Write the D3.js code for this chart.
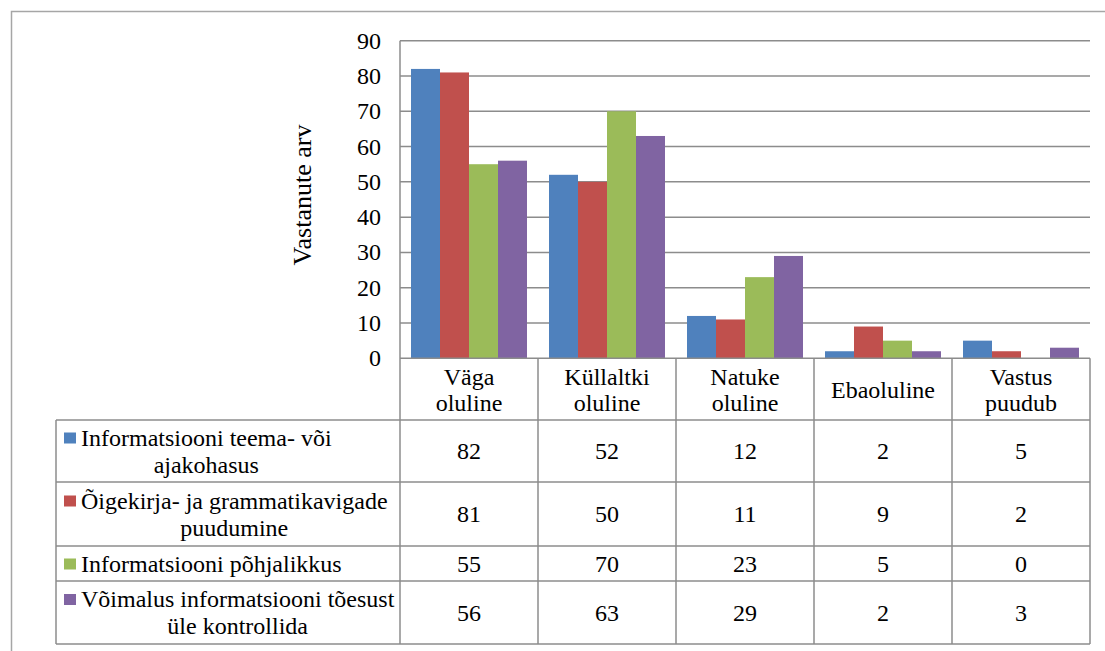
<!DOCTYPE html>
<html><head><meta charset="utf-8"><script src="https://cdn.jsdelivr.net/npm/d3@7"></script></head>
<body style="margin:0">
<svg id="s" width="1105" height="651"></svg>
<script>
// ---- data ----
const categories = ["Väga oluline", "Küllaltki oluline", "Natuke oluline", "Ebaoluline", "Vastus puudub"];
const categoryLines = [["Väga", "oluline"], ["Küllaltki", "oluline"], ["Natuke", "oluline"], ["Ebaoluline"], ["Vastus", "puudub"]];
const seriesNames = [
  "Informatsiooni teema- või ajakohasus",
  "Õigekirja- ja grammatikavigade puudumine",
  "Informatsiooni põhjalikkus",
  "Võimalus informatsiooni tõesust üle kontrollida"
];
const seriesLines = [
  ["Informatsiooni teema- või", "ajakohasus"],
  ["Õigekirja- ja grammatikavigade", "puudumine"],
  ["Informatsiooni põhjalikkus"],
  ["Võimalus informatsiooni tõesust", "üle kontrollida"]
];
const series1 = [82, 52, 12, 2, 5];
const series2 = [81, 50, 11, 9, 2];
const series3 = [55, 70, 23, 5, 0];
const series4 = [56, 63, 29, 2, 3];
const seriesValues = [series1, series2, series3, series4];
const colors = ["#4f81bd", "#c0504d", "#9bbb59", "#8064a2"];
const yTicks = [0, 10, 20, 30, 40, 50, 60, 70, 80, 90];
const yTitle = "Vastanute arv";

// ---- layout ----
const svg = d3.select("#s");
const plotLeft = 400, plotRight = 1090, plotTop = 40.7, plotBottom = 358.3;
const tableLeft = 56;
const headerBottom = 420;
const rowHeights = [62, 64, 35, 63];
const gridColor = "#8c8c8c";
const fontSize = 24;
const lineGap = 26;

function addText(x, yy, s, size, anchor) {
  return svg.append("text").attr("x", x).attr("y", yy)
    .attr("font-family", "'Liberation Serif'").attr("font-size", size || fontSize)
    .attr("text-anchor", anchor || "middle")
    .text(s);
}

const x0 = d3.scaleBand().domain(categories).range([plotLeft, plotRight]).padding(0);
const x1 = d3.scaleBand().domain(seriesNames).range([11, x0.bandwidth() - 11]).padding(0);
const y = d3.scaleLinear().domain([0, 90]).range([plotBottom, plotTop]);

svg.append("path")
  .attr("d", "M11.5,651 L11.5,11.5 L1105,11.5")
  .attr("fill", "none").attr("stroke", "#a6a6a6").attr("stroke-width", 1.5);

svg.append("g").selectAll("line").data(yTicks.filter(d => d > 0)).join("line")
  .attr("x1", plotLeft).attr("x2", plotRight)
  .attr("y1", d => y(d)).attr("y2", d => y(d))
  .attr("stroke", gridColor).attr("stroke-width", 1.5);

// y tick labels from the scale
y.ticks(9).forEach(t => {
  addText(plotLeft - 19, y(t) + 8, String(t), fontSize, "end");
});

addText(0, 0, yTitle, 26, "middle").attr("transform", "translate(311,195) rotate(-90)");

const groups = svg.append("g").selectAll("g").data(categories).join("g")
  .attr("transform", d => `translate(${x0(d)},0)`);
groups.selectAll("rect")
  .data((c, ci) => seriesNames.map((s, si) => ({ s, si, v: seriesValues[si][ci] })))
  .join("rect")
  .attr("x", d => x1(d.s))
  .attr("width", x1.bandwidth())
  .attr("y", d => y(d.v))
  .attr("height", d => y(0) - y(d.v))
  .attr("fill", d => colors[d.si]);

const rowTops = [headerBottom];
rowHeights.forEach(h => rowTops.push(rowTops[rowTops.length - 1] + h));
const tableBottom = rowTops[rowTops.length - 1];

const lines = svg.append("g").attr("stroke", gridColor).attr("stroke-width", 1.5).attr("fill", "none");
lines.append("line").attr("x1", plotLeft).attr("x2", plotLeft).attr("y1", plotTop).attr("y2", tableBottom);
lines.append("line").attr("x1", plotLeft).attr("x2", plotRight).attr("y1", plotBottom).attr("y2", plotBottom);
categories.forEach(c => {
  const xr = x0(c) + x0.bandwidth();
  lines.append("line").attr("x1", xr).attr("x2", xr).attr("y1", plotBottom).attr("y2", tableBottom);
});
rowTops.forEach(t => {
  lines.append("line").attr("x1", tableLeft).attr("x2", plotRight).attr("y1", t).attr("y2", t);
});
lines.append("line").attr("x1", tableLeft).attr("x2", tableLeft).attr("y1", headerBottom).attr("y2", tableBottom);

categories.forEach((c, ci) => {
  const cx = x0(c) + x0.bandwidth() / 2;
  const mid = (plotBottom + headerBottom) / 2;
  const ls = categoryLines[ci];
  ls.forEach((l, i) => {
    addText(cx, mid + 9 + (i - (ls.length - 1) / 2) * lineGap, l);
  });
});

const lineGapRow = 27;
seriesNames.forEach((s, si) => {
  const top = rowTops[si], bot = rowTops[si + 1];
  const mid = (top + bot) / 2;
  const ls = seriesLines[si];
  const baselines = ls.map((l, i) => mid + 8 + (i - (ls.length - 1) / 2) * lineGapRow);
  const els = ls.map((l, i) => addText(81, baselines[i], l, fontSize, "start"));
  const widths = els.map(t => t.node().getComputedTextLength());
  const maxW = d3.max(widths);
  els.forEach((t, i) => t.attr("x", 81 + (maxW - widths[i]) / 2));
  svg.append("rect").attr("x", 64).attr("y", baselines[0] - 13)
    .attr("width", 12).attr("height", 11).attr("fill", colors[si]);
  categories.forEach((c, ci) => {
    addText(x0(c) + x0.bandwidth() / 2, mid + 8, String(seriesValues[si][ci]));
  });
});
</script>
</body>
</html>
